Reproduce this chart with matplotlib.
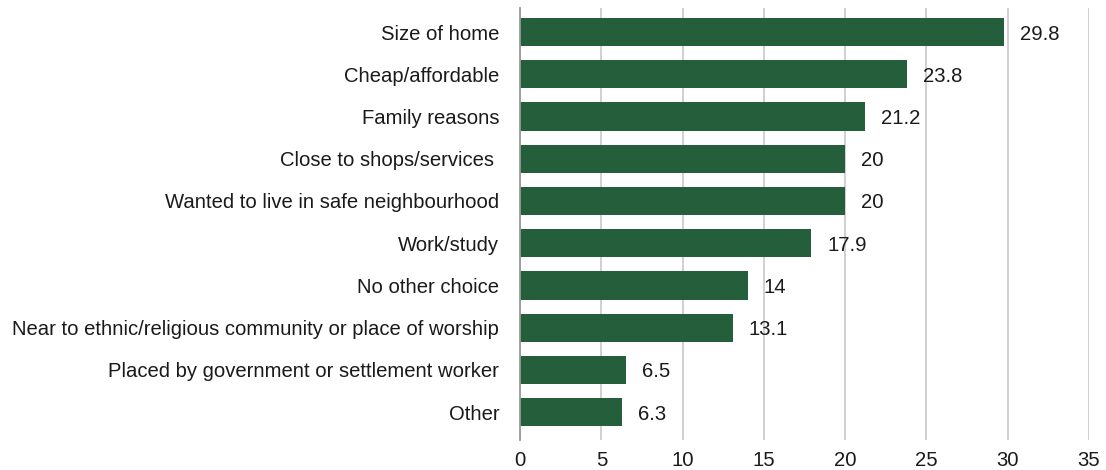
import matplotlib
matplotlib.use("Agg")
import matplotlib.pyplot as plt

categories = [
    "Size of home",
    "Cheap/affordable",
    "Family reasons",
    "Close to shops/services ",
    "Wanted to live in safe neighbourhood",
    "Work/study",
    "No other choice",
    "Near to ethnic/religious community or place of worship",
    "Placed by government or settlement worker",
    "Other",
]
values = [29.8, 23.8, 21.2, 20, 20, 17.9, 14, 13.1, 6.5, 6.3]
x_ticks = [0, 5, 10, 15, 20, 25, 30, 35]

plt.rcParams["font.family"] = ["Liberation Sans", "DejaVu Sans"]

fig = plt.figure(figsize=(11.06, 4.70), dpi=100)
ax = fig.add_axes([0.4702, 0.0638, 0.5144, 0.9192])

pos = list(range(len(categories)))
ax.barh(pos, values, height=0.67, color="#255e3b", zorder=3)

# value labels just past the end of each bar
for p, v in zip(pos, values):
    label = f"{v:g}"
    ax.annotate(label, (v, p), xytext=(16, -2), textcoords="offset pixels",
                va="center", ha="left", fontsize=14.6, color="#1a1a1a", zorder=4)

ax.set_xlim(0, 35)
ax.set_ylim(len(categories) - 1 + 0.66, -0.57)
ax.set_xticks(x_ticks)
ax.set_yticks(pos)
ax.set_yticklabels(categories)

ax.grid(axis="x", color="#c4c4c4", linewidth=1.1, zorder=0)
ax.grid(axis="y", visible=False)
for side in ["top", "right", "bottom"]:
    ax.spines[side].set_visible(False)
ax.spines["left"].set_color("#999999")
ax.spines["left"].set_linewidth(1.3)
ax.spines["left"].set_zorder(5)

ax.tick_params(axis="both", length=0, labelsize=14.6, colors="#1a1a1a")
ax.tick_params(axis="y", pad=15)
ax.tick_params(axis="x", pad=8)

fig.savefig("out.png", dpi=100)
